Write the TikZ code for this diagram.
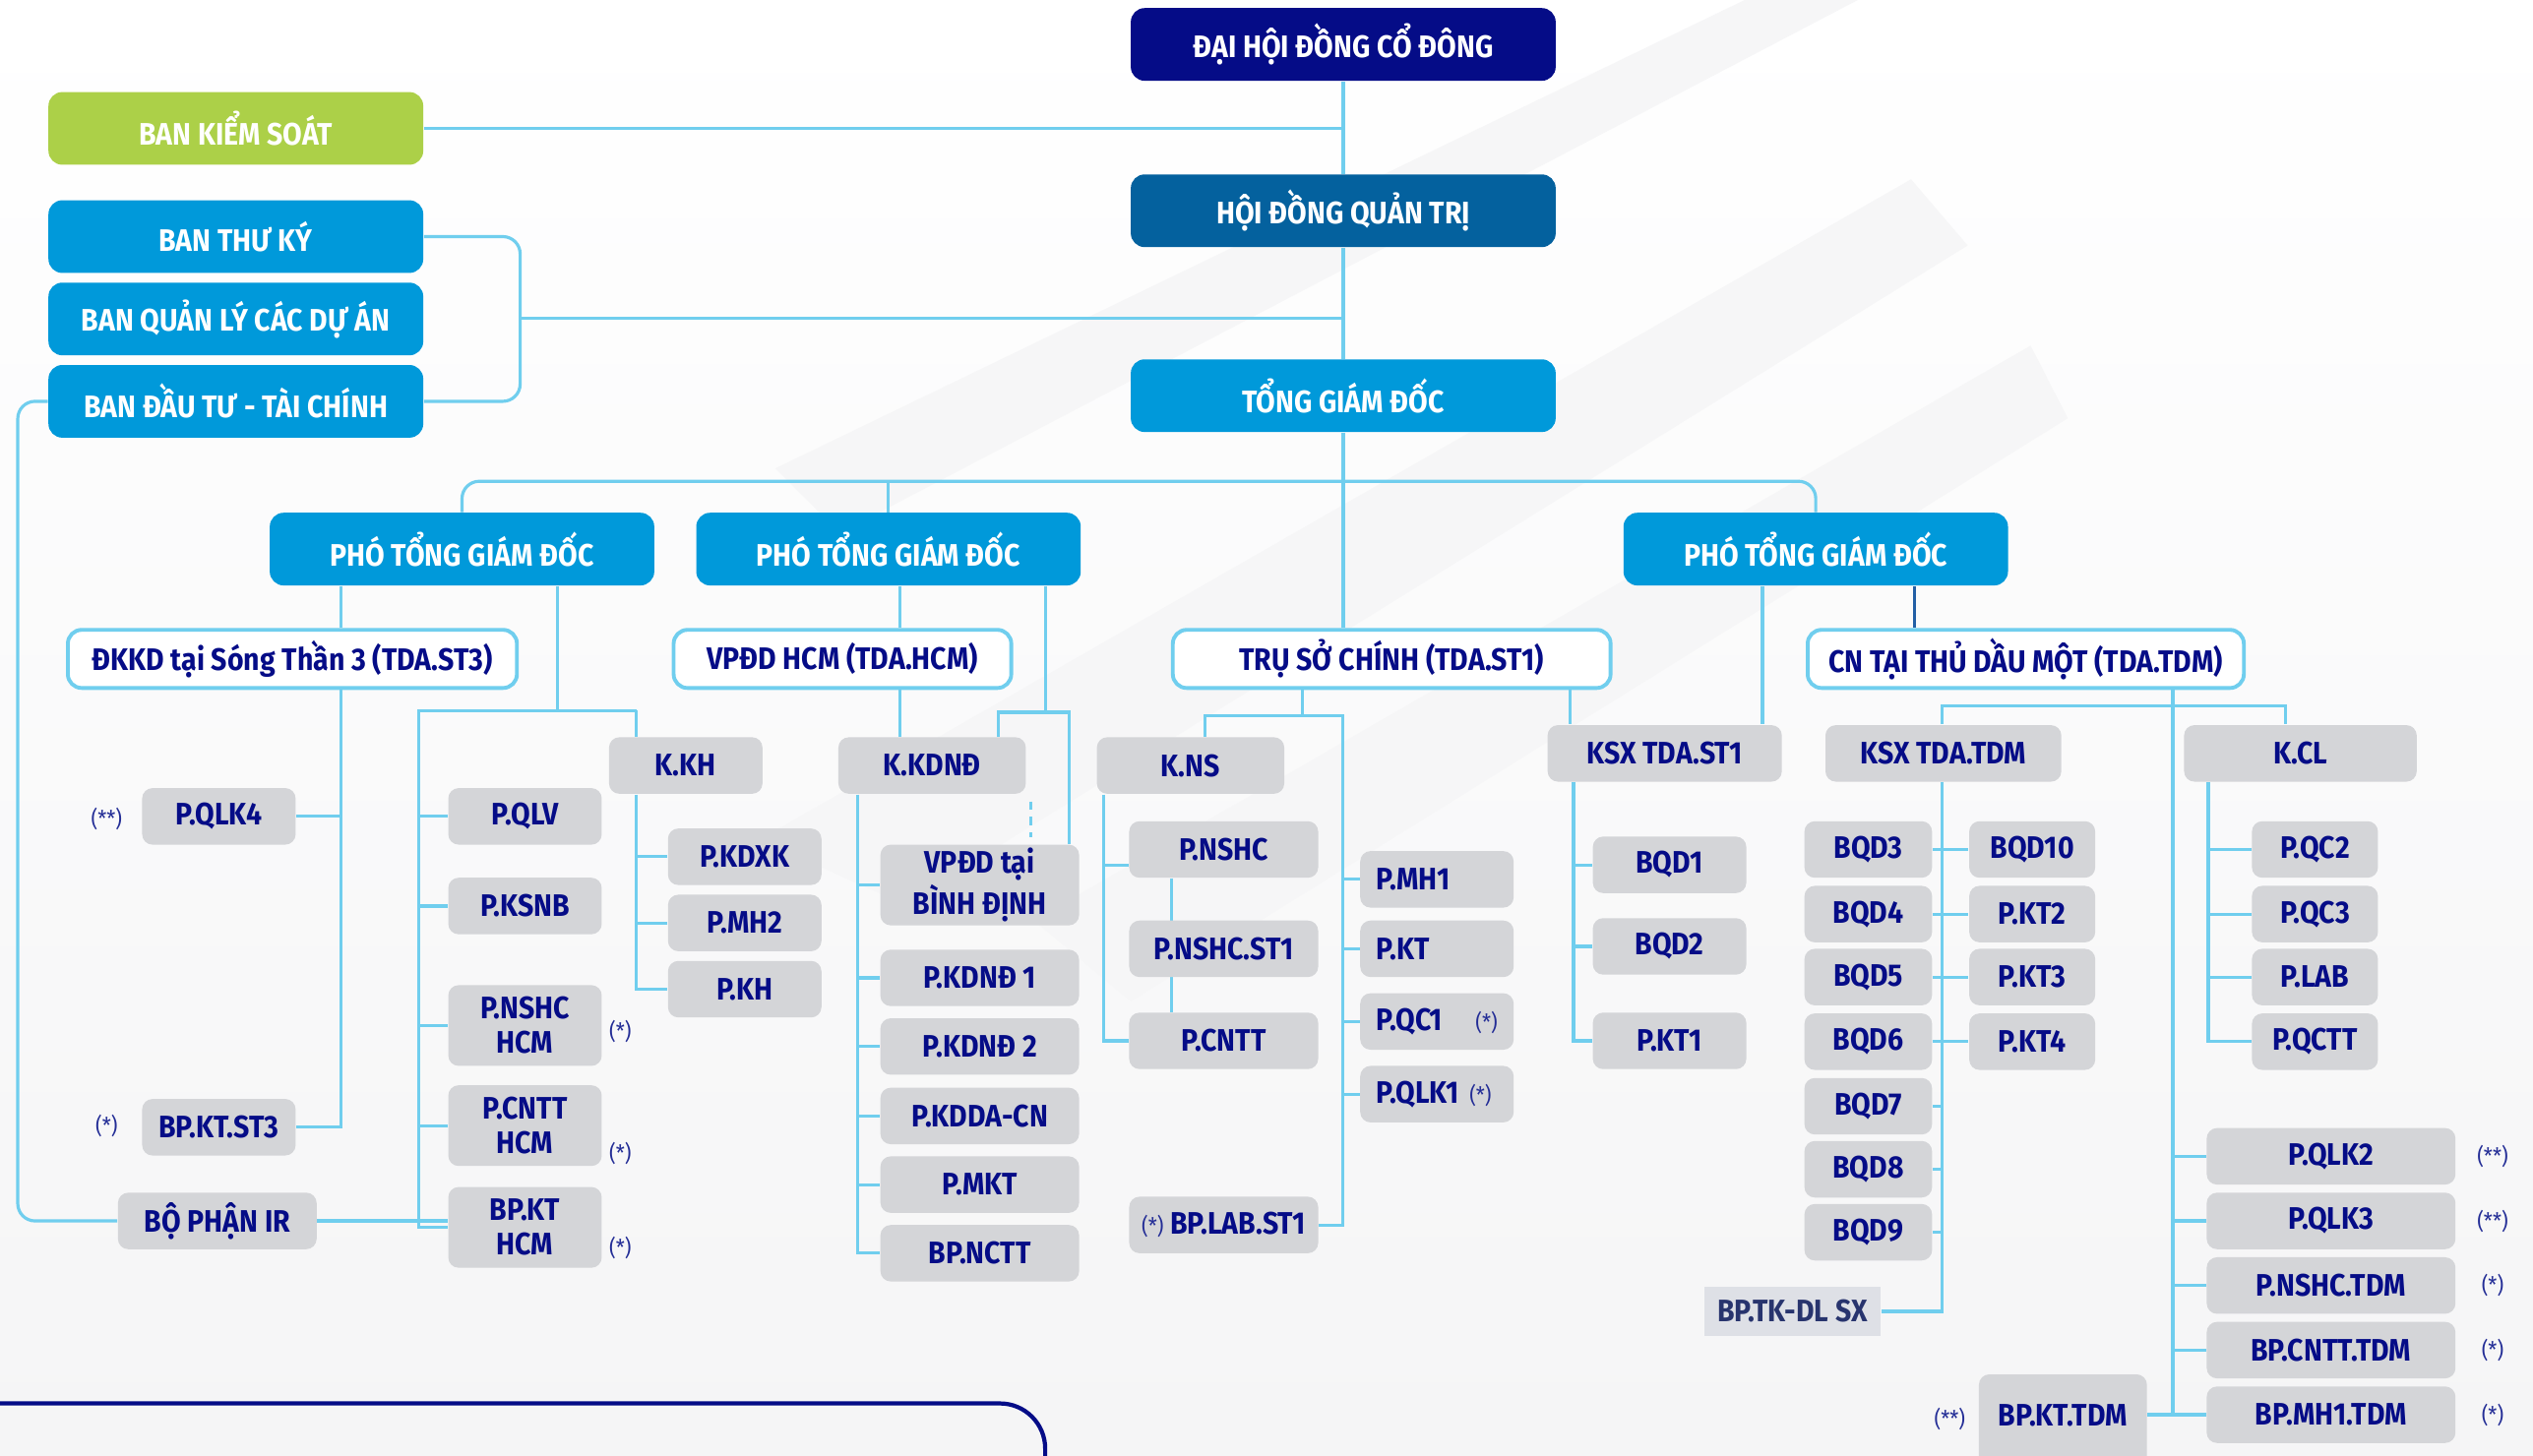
\documentclass[tikz,border=0pt]{standalone}
\usepackage{fontspec}
\setmainfont{Fira Sans}[FakeStretch=0.9]
\usetikzlibrary{shapes,arrows}
\definecolor{navy}{RGB}{5,12,135}
\definecolor{ocean}{RGB}{4,97,158}
\definecolor{sky}{RGB}{0,153,218}
\definecolor{lime}{RGB}{172,208,72}
\definecolor{gray1}{RGB}{212,213,216}
\definecolor{gray2}{RGB}{222,224,230}
\definecolor{slate}{RGB}{40,52,110}
\definecolor{linecol}{RGB}{112,206,238}
\definecolor{deepline}{RGB}{35,95,165}
\definecolor{noteblue}{RGB}{35,45,150}
\definecolor{bggray}{RGB}{245,245,246}
\definecolor{band}{RGB}{246,246,247}
\newlength\px
\setlength\px{0.016416cm}
\newcommand\astr[1]{{\mdseries\fontsize{6.5}{7}\selectfont\color{noteblue}#1}}
\pgfdeclarelayer{back}
\pgfdeclarelayer{links}
\pgfsetlayers{back,links,main}

\begin{document}
\begin{tikzpicture}[x=0.016416cm,y=-0.016416cm,line join=round]
\tikzstyle{box}=[rectangle,inner sep=0pt,align=center,font=\bfseries\fontsize{9}{10}\selectfont]
\tikzstyle{top}=[box,rounded corners=4pt,text=white,minimum width=263\px,minimum height=45\px]
\tikzstyle{ban}=[top,fill=sky,minimum width=232\px]
\tikzstyle{pho}=[top,fill=sky,minimum width=238\px]
\tikzstyle{unit}=[box,rounded corners=4pt,draw=linecol,line width=1.1pt,fill=white,text=navy,minimum height=36\px]
\tikzstyle{dept}=[box,rounded corners=3pt,fill=gray1,text=navy,minimum width=95\px,minimum height=35\px]
\tikzstyle{lft}=[text width=75\px,align=left]
\tikzstyle{note}=[text=noteblue,inner sep=0pt,font=\fontsize{6.5}{7}\selectfont]
\tikzstyle{conn}=[draw=linecol,line width=0.9pt]
\useasboundingbox (0,0) rectangle (1568,901);
\begin{pgfonlayer}{back}
\shade[top color=white,bottom color=bggray] (0,0) rectangle (1568,901);
\fill[band] (1183,111) -- (1218,152) -- (560,560) -- (470,520) -- cycle;
\fill[band] (1257,214) -- (1280,259) -- (700,620) -- (640,570) -- cycle;
\fill[band] (1080,0) -- (1150,0) -- (520,330) -- (480,290) -- cycle;
\end{pgfonlayer}

\node[top,fill=navy] (dhd) at (831.5,27.5) {ĐẠI HỘI ĐỒNG CỔ ĐÔNG};
\node[top,fill=ocean] (hdqt) at (831.5,130.5) {HỘI ĐỒNG QUẢN TRỊ};
\node[top,fill=sky] (tgd) at (831.5,245) {TỔNG GIÁM ĐỐC};
\node[ban,fill=lime] (bks) at (146,79.5) {BAN KIỂM SOÁT};
\node[ban] (btk) at (146,146.5) {BAN THƯ KÝ};
\node[ban] (bql) at (146,197.5) {BAN QUẢN LÝ CÁC DỰ ÁN};
\node[ban] (bdt) at (146,248.5) {BAN ĐẦU TƯ - TÀI CHÍNH};
\node[pho] (pho1) at (286,340) {PHÓ TỔNG GIÁM ĐỐC};
\node[pho] (pho2) at (550,340) {PHÓ TỔNG GIÁM ĐỐC};
\node[pho] (pho3) at (1124,340) {PHÓ TỔNG GIÁM ĐỐC};

\node[unit,minimum width=278\px] (st3) at (181,408) {ĐKKD tại Sóng Thần 3 (TDA.ST3)};
\node[unit,minimum width=209\px] (hcm) at (521.5,408) {VPĐD HCM (TDA.HCM)};
\node[unit,minimum width=271\px] (st1) at (861.5,408) {TRỤ SỞ CHÍNH (TDA.ST1)};
\node[unit,minimum width=270\px] (tdm) at (1254,408) {CN TẠI THỦ DẦU MỘT (TDA.TDM)};

\node[dept] (qlk4) at (135.5,505.5) {P.QLK4};
\node[dept] (ktst3) at (135.5,698) {BP.KT.ST3};
\node[dept,minimum width=123\px] (ir) at (134.5,756) {BỘ PHẬN IR};
\node[dept] (qlv) at (325,505.5) {P.QLV};
\node[dept] (ksnb) at (325,561) {P.KSNB};
\node[dept,minimum height=50\px] (nshchcm) at (325,635) {P.NSHC\\HCM};
\node[dept,minimum height=50\px] (cntthcm) at (325,697) {P.CNTT\\HCM};
\node[dept,minimum height=50\px] (kthcm) at (325,760) {BP.KT\\HCM};
\node[dept] (kkh) at (424.5,474) {K.KH};
\node[dept] (kdxk) at (461,530.5) {P.KDXK};
\node[dept] (mh2) at (461,571.5) {P.MH2};
\node[dept] (pkh) at (461,612.5) {P.KH};

\node[dept,minimum width=116\px] (kkdnd) at (577,474) {K.KDNĐ};
\node[dept,minimum width=123\px,minimum height=50\px] (vpbd) at (606.5,548) {VPĐD tại\\BÌNH ĐỊNH};
\node[dept,minimum width=123\px] (kdnd1) at (606.5,605.5) {P.KDNĐ 1};
\node[dept,minimum width=123\px] (kdnd2) at (606.5,648) {P.KDNĐ 2};
\node[dept,minimum width=123\px] (kdda) at (606.5,691) {P.KDDA-CN};
\node[dept,minimum width=123\px] (mkt) at (606.5,733.5) {P.MKT};
\node[dept,minimum width=123\px] (nctt) at (606.5,776) {BP.NCTT};

\node[dept,minimum width=116\px] (kns) at (737,474) {K.NS};
\node[dept,minimum width=117\px] (nshc) at (757.5,526) {P.NSHC};
\node[dept,minimum width=117\px] (nshcst1) at (757.5,587.5) {P.NSHC.ST1};
\node[dept,minimum width=117\px] (cntt) at (757.5,644.5) {P.CNTT};
\node[dept,minimum width=117\px] (labst1) at (757.5,758.5) {\astr{(*)} BP.LAB.ST1};
\node[dept,lft] (mh1) at (889.5,544.5) {P.MH1};
\node[dept,lft] (pkt) at (889.5,587.5) {P.KT};
\node[dept,lft] (qc1) at (889.5,632.5) {P.QC1\hfill\astr{(*)}};
\node[dept,lft] (qlk1) at (889.5,677.5) {P.QLK1 \astr{(*)}};

\node[dept,minimum width=145\px] (ksxst1) at (1030.5,466.5) {KSX TDA.ST1};
\node[dept] (bqd1) at (1033.5,535.5) {BQD1};
\node[dept] (bqd2) at (1033.5,586) {BQD2};
\node[dept] (pkt1) at (1033.5,644.5) {P.KT1};
\node[dept,minimum width=146\px] (ksxtdm) at (1203,466.5) {KSX TDA.TDM};
\node[dept,minimum width=144\px] (kcl) at (1424,466.5) {K.CL};
\node[dept,minimum width=79\px] (bqd3) at (1156.5,526) {BQD3};
\node[dept,minimum width=79\px] (bqd4) at (1156.5,566) {BQD4};
\node[dept,minimum width=79\px] (bqd5) at (1156.5,605) {BQD5};
\node[dept,minimum width=79\px] (bqd6) at (1156.5,645) {BQD6};
\node[dept,minimum width=79\px] (bqd7) at (1156.5,685) {BQD7};
\node[dept,minimum width=79\px] (bqd8) at (1156.5,724) {BQD8};
\node[dept,minimum width=79\px] (bqd9) at (1156.5,763) {BQD9};
\node[dept,minimum width=78\px] (bqd10) at (1258,526) {BQD10};
\node[dept,minimum width=78\px] (kt2) at (1258,566) {P.KT2};
\node[dept,minimum width=78\px] (kt3) at (1258,605) {P.KT3};
\node[dept,minimum width=78\px] (kt4) at (1258,645) {P.KT4};
\node[dept,rounded corners=0pt,fill=gray2,text=slate,minimum width=109\px,minimum height=30\px] (tkdl) at (1109.5,812) {BP.TK-DL SX};
\node[dept,minimum width=78\px] (qc2) at (1433,526) {P.QC2};
\node[dept,minimum width=78\px] (qc3) at (1433,566) {P.QC3};
\node[dept,minimum width=78\px] (plab) at (1433,605) {P.LAB};
\node[dept,minimum width=78\px] (qctt) at (1433,645) {P.QCTT};
\node[dept,minimum width=154\px] (qlk2) at (1443,716) {P.QLK2};
\node[dept,minimum width=154\px] (qlk3) at (1443,756) {P.QLK3};
\node[dept,minimum width=154\px] (nshctdm) at (1443,796) {P.NSHC.TDM};
\node[dept,minimum width=154\px] (cntttdm) at (1443,836) {BP.CNTT.TDM};
\node[dept,minimum width=154\px] (bpmh1) at (1443,876) {BP.MH1.TDM};
\node[dept,minimum width=104\px,minimum height=64\px] (kttdm) at (1277,883) {\raisebox{14\px}{BP.KT.TDM}};

\node[note] (n1) at (66,507) {(**)};
\node[note] (n2) at (66,697) {(*)};
\node[note] (n3) at (384,639) {(*)};
\node[note] (n4) at (384,714) {(*)};
\node[note] (n5) at (384,773) {(*)};
\node[note] (n6) at (1543,716) {(**)};
\node[note] (n7) at (1543,756) {(**)};
\node[note] (n8) at (1543,796) {(*)};
\node[note] (n9) at (1543,836) {(*)};
\node[note] (n10) at (1543,876) {(*)};
\node[note] (n11) at (1207,879) {(**)};

\coordinate (bj) at (322,197);
\coordinate (irx) at (11,500);
\coordinate (bar) at (831.5,298);
\coordinate (c211) at (211,0);
\coordinate (j1) at (345,440);
\coordinate (j1l) at (259,440);
\coordinate (j1r) at (394,440);
\coordinate (c557) at (557,0);
\coordinate (j2) at (647,441);
\coordinate (j2l) at (618,441);
\coordinate (j2r) at (662,441);
\coordinate (c638) at (638,0);
\coordinate (c531) at (531,0);
\coordinate (j3) at (806,443);
\coordinate (j3l) at (746,443);
\coordinate (j3r) at (831,443);
\coordinate (c683) at (683,0);
\coordinate (c725) at (725,0);
\coordinate (c1091) at (1091,0);
\coordinate (c1185) at (1185,0);
\coordinate (c972) at (972,0);
\coordinate (c974) at (974,0);
\coordinate (j4) at (1345,437);
\coordinate (j4l) at (1202,437);
\coordinate (j4r) at (1415,437);
\coordinate (c1202) at (1202,0);
\coordinate (c1367) at (1367,0);

\begin{pgfonlayer}{links}
\draw[conn] (dhd) -- (hdqt);
\draw[conn] (hdqt) -- (tgd);
\draw[conn] (tgd.south) -- (tgd.south |- st1.north);
\draw[conn] (bks) -- (bks -| dhd);
\draw[conn,rounded corners=5pt] (btk) -| (bj) |- (bdt);
\draw[conn] (bj) -- (bj -| tgd);
\draw[conn,rounded corners=5pt] (bdt) -| (irx) |- (ir);
\draw[conn,rounded corners=5pt] (pho1) |- (bar) -| (pho3);
\draw[conn] (pho2) -- (pho2 |- bar);

\draw[conn] (pho1.south -| c211) -- (st3.north -| c211);
\draw[conn] (st3.south -| c211) |- (ktst3);
\draw[conn] (qlk4) -- (qlk4 -| c211);
\draw[conn] (pho1.south -| j1) -- (j1);
\draw[conn] (j1r) -- (j1l) |- (kthcm);
\draw[conn] (j1r) -- (kkh.north -| j1r);
\foreach \n in {qlv,ksnb,nshchcm,cntthcm} \draw[conn] (\n) -- (\n -| j1l);
\draw[conn] (ir) -- (ir -| kthcm.west);
\draw[conn] (kkh.south -| j1r) |- (pkh);
\foreach \n in {kdxk,mh2} \draw[conn] (\n) -- (\n -| j1r);

\draw[conn] (pho2.south -| c557) -- (hcm.north -| c557);
\draw[conn] (hcm.south -| c557) -- (kkdnd.north -| c557);
\draw[conn] (pho2.south -| j2) -- (j2);
\draw[conn] (kkdnd.north -| j2l) -- (j2l) -- (j2r) -- (vpbd.north -| j2r);
\draw[conn,dash pattern=on 2.5pt off 2pt,shorten <=2pt,shorten >=2pt] (kkdnd.south -| c638) -- (vpbd.north -| c638);
\draw[conn] (kkdnd.south -| c531) |- (nctt);
\foreach \n in {vpbd,kdnd1,kdnd2,kdda,mkt} \draw[conn] (\n) -- (\n -| c531);

\draw[conn] (st1.south -| j3) -- (j3);
\draw[conn] (kns.north -| j3l) -- (j3l) -- (j3r) |- (labst1);
\foreach \n in {mh1,pkt,qc1,qlk1} \draw[conn] (\n) -- (\n -| j3r);
\draw[conn] (kns.south -| c683) |- (cntt);
\draw[conn] ([yshift=-4.5pt]nshc.west) -- ([yshift=-4.5pt]nshc.west -| c683);
\draw[conn] (nshc.south -| c725) -- (cntt.north -| c725);

\draw[conn] (pho3.south -| c1091) -- (ksxst1.north -| c1091);
\draw[conn,draw=deepline] (pho3.south -| c1185) -- (tdm.north -| c1185);
\draw[conn] (st1.south -| c972) -- (ksxst1.north -| c972);
\draw[conn] (ksxst1.south -| c974) |- (pkt1);
\foreach \n in {bqd1,bqd2} \draw[conn] (\n) -- (\n -| c974);
\draw[conn] (tdm.south -| j4) -- (j4) -- (bpmh1 -| j4);
\draw[conn] (ksxtdm.north -| j4l) -- (j4l) -- (j4r) -- (kcl.north -| j4r);
\foreach \n in {qlk2,qlk3,nshctdm,cntttdm,bpmh1} \draw[conn] (\n) -- (\n -| j4);
\draw[conn] (kttdm.east |- bpmh1) -- (bpmh1 -| j4);
\draw[conn] (ksxtdm.south -| c1202) |- (tkdl);
\foreach \a/\b in {bqd3/bqd10,bqd4/kt2,bqd5/kt3,bqd6/kt4} \draw[conn] (\a) -- (\b);
\foreach \n in {bqd7,bqd8,bqd9} \draw[conn] (\n) -- (\n -| c1202);
\draw[conn] (kcl.south -| c1367) |- (qctt);
\foreach \n in {qc2,qc3,plab} \draw[conn] (\n) -- (\n -| c1367);
\end{pgfonlayer}

\draw[navy,line width=1.2pt,rounded corners=28\px] (-10,869) -- (647,869) -- (647,930);
\end{tikzpicture}
\end{document}
